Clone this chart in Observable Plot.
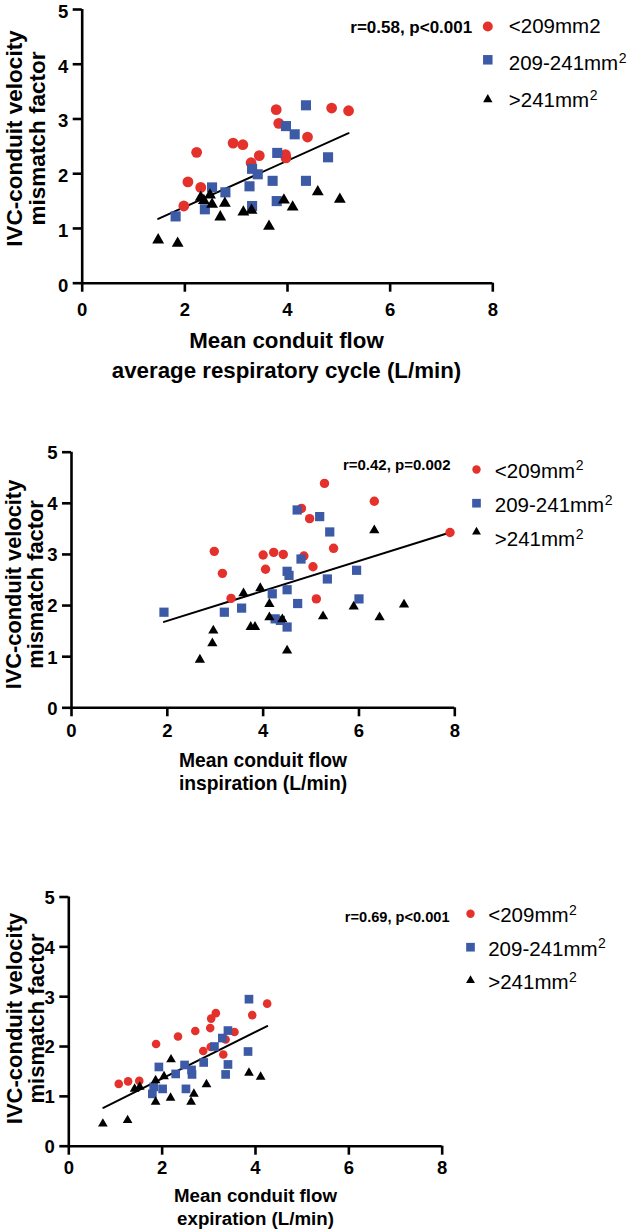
<!DOCTYPE html>
<html><head><meta charset="utf-8">
<script src="https://cdn.jsdelivr.net/npm/d3@7"></script>
<script src="https://cdn.jsdelivr.net/npm/@observablehq/plot@0.6"></script>
<style>
html,body{margin:0;padding:0;background:#fff;}
#root{position:relative;width:633px;height:1231px;overflow:hidden;background:#fff;}
#root svg{position:absolute;left:0;}
</style></head><body><div id="root"></div>
<script>
// ---------- data ----------
const xTicks = [0, 2, 4, 6, 8];
const yTicks = [0, 1, 2, 3, 4, 5];
const legend1 = ["<209mm2", "209-241mm²", ">241mm²"];
const legend23 = ["<209mm²", "209-241mm²", ">241mm²"];
const yTitle = "IVC-conduit velocity\nmismatch factor";
const xTitles = ["Mean conduit flow\naverage respiratory cycle (L/min)", "Mean conduit flow\ninspiration (L/min)", "Mean conduit flow\nexpiration (L/min)"];
const stats = ["r=0.58, p<0.001", "r=0.42, p=0.002", "r=0.69, p<0.001"];

// Panel 1: average respiratory cycle
const avgSmallX = [1.98, 2.06, 2.23, 2.31, 2.94, 3.13, 3.29, 3.45, 3.78, 3.83, 3.96, 3.97, 4.39, 4.86, 5.19];
const avgSmallY = [1.41, 1.85, 2.39, 1.75, 2.56, 2.53, 2.20, 2.33, 3.17, 2.92, 2.35, 2.29, 2.67, 3.20, 3.15];
const avgMidX = [1.82, 2.39, 2.53, 2.79, 3.26, 3.31, 3.31, 3.42, 3.71, 3.80, 3.79, 3.97, 4.14, 4.36, 4.36, 4.79];
const avgMidY = [1.22, 1.35, 1.75, 1.66, 1.77, 2.09, 1.41, 1.99, 1.87, 2.38, 1.50, 2.87, 2.72, 3.25, 1.87, 2.30];
const avgLargeX = [1.48, 1.86, 2.31, 2.37, 2.49, 2.53, 2.69, 2.78, 3.14, 3.30, 3.64, 3.93, 4.10, 4.59, 5.02];
const avgLargeY = [0.79, 0.73, 1.57, 1.51, 1.61, 1.44, 1.21, 1.46, 1.30, 1.33, 1.04, 1.52, 1.39, 1.67, 1.53];
const avgFitX = [1.48, 5.19];
const avgFitY = [1.175, 2.74];

// Panel 2: inspiration
const inspSmallX = [2.98, 3.15, 3.33, 4.00, 4.05, 4.22, 4.42, 4.80, 4.97, 4.85, 5.04, 5.11, 5.28, 5.47, 6.32, 7.90];
const inspSmallY = [3.06, 2.63, 2.14, 2.99, 2.71, 3.04, 3.00, 3.90, 3.70, 2.97, 2.76, 2.13, 4.39, 3.12, 4.04, 3.43];
const inspMidX = [1.93, 3.19, 3.55, 4.19, 4.50, 4.54, 4.50, 4.25, 4.36, 4.50, 4.72, 4.71, 4.79, 5.18, 5.39, 5.34, 5.95, 6.00];
const inspMidY = [1.87, 1.87, 1.95, 2.23, 2.67, 2.59, 2.31, 1.74, 1.71, 1.58, 2.04, 3.87, 2.91, 3.74, 3.44, 2.52, 2.69, 2.13];
const inspLargeX = [2.68, 2.94, 2.96, 3.59, 3.74, 3.83, 3.94, 4.13, 4.13, 4.40, 4.50, 5.25, 5.89, 6.32, 6.43, 6.94];
const inspLargeY = [0.94, 1.26, 1.51, 2.24, 1.58, 1.58, 2.34, 2.03, 1.77, 1.73, 1.12, 1.79, 1.98, 3.47, 1.77, 2.02];
const inspFitX = [1.93, 7.90];
const inspFitY = [1.68, 3.43];

// Panel 3: expiration
const expSmallX = [1.07, 1.27, 1.51, 1.87, 2.34, 2.71, 2.88, 3.03, 3.05, 3.15, 3.04, 3.31, 3.36, 3.55, 3.93, 4.25];
const expSmallY = [1.25, 1.30, 1.31, 2.05, 2.20, 2.31, 1.91, 2.37, 2.56, 2.67, 1.99, 1.84, 2.14, 2.29, 2.63, 2.86];
const expMidX = [1.79, 1.82, 1.93, 2.01, 2.29, 2.48, 2.51, 2.63, 2.64, 2.89, 3.12, 3.29, 3.41, 3.36, 3.41, 3.84, 3.86];
const expMidY = [1.05, 1.19, 1.59, 1.15, 1.45, 1.63, 1.15, 1.53, 1.44, 1.68, 2.00, 2.17, 2.32, 1.44, 1.64, 1.90, 2.95];
const expLargeX = [0.73, 1.26, 1.41, 1.52, 1.86, 1.86, 2.04, 2.18, 2.19, 2.62, 2.68, 2.95, 3.86, 4.11];
const expLargeY = [0.45, 0.52, 1.15, 1.19, 1.32, 0.89, 1.40, 0.97, 1.74, 0.89, 1.05, 1.24, 1.47, 1.39];
const expFitX = [0.74, 4.25];
const expFitY = [0.77, 2.41];

// ---------- styles ----------
const RED = "#e4312b", BLUE = "#3c5aa6", BLACK = "#000";
const FONT = "'Liberation Sans', Arial, Helvetica, sans-serif";
const symbols = ["circle", "square", "triangle"];
const fills = [RED, BLUE, BLACK];
const LEG_SIZE = 20.5, SUP_SIZE = 14, SUP_RAISE = 7.5;

const zip = (xs, ys) => xs.map((x, i) => ({x, y: ys[i]}));
const ctx = document.createElement("canvas").getContext("2d");
function textWidth(s, size, weight) {
  ctx.font = `${weight || "normal"} ${size}px 'Liberation Sans', Arial, sans-serif`;
  return ctx.measureText(s).width;
}

function panel(cfg) {
  const {svgTop, svgH, fl, fr, ft, fb} = cfg;
  const rel = (px, py) => ({frameAnchor: "top-left", dx: px - fl, dy: py - ft});
  const sets = cfg.series.map(([xs, ys]) => zip(xs, ys));
  const marks = [
    Plot.ruleY([0], {stroke: BLACK, strokeWidth: 2.6}),
    Plot.ruleX([0], {stroke: BLACK, strokeWidth: 2.6}),
    Plot.axisX({ticks: xTicks, tickSize: 9, tickPadding: cfg.xPad, strokeWidth: 2.6, stroke: BLACK, fill: BLACK,
      fontSize: 18.5, fontWeight: "bold", label: null, tickFormat: d => String(d)}),
    // y ticks only
    Plot.axisY({ticks: yTicks, tickSize: 9, strokeWidth: 2.6, stroke: BLACK, fill: "none", label: null}),
    // y tick labels only (nudged down slightly, as in the reference)
    Plot.axisY({ticks: yTicks, tickSize: 9, tickPadding: 5, stroke: "none", fill: BLACK, dy: cfg.yLabDy,
      fontSize: 18.5, fontWeight: "bold", label: null, tickFormat: d => String(d)}),
    Plot.line(zip(cfg.fit[0], cfg.fit[1]), {x: "x", y: "y", stroke: BLACK, strokeWidth: 2})
  ];
  sets.forEach((d, i) => {
    marks.push(Plot.dot(d, {x: "x", y: "y", symbol: symbols[i], fill: fills[i], stroke: "none", r: cfg.rs[i]}));
  });
  // legend
  cfg.legend.forEach((lab, i) => {
    marks.push(Plot.dot([lab], {...rel(cfg.legX, cfg.legSymY[i]), symbol: symbols[i], fill: fills[i], stroke: "none", r: cfg.legR[i]}));
    const sup = lab.endsWith("²");
    const base = sup ? lab.slice(0, -1) : lab;
    marks.push(Plot.text([base], {...rel(cfg.legTextX, cfg.legTextY[i]), textAnchor: "start", lineAnchor: "bottom",
      fontSize: LEG_SIZE, fontWeight: "normal", fill: BLACK}));
    if (sup) {
      const w = textWidth(base, LEG_SIZE);
      marks.push(Plot.text(["2"], {...rel(cfg.legTextX + w + 0.5, cfg.legTextY[i] - SUP_RAISE), textAnchor: "start", lineAnchor: "bottom",
        fontSize: SUP_SIZE, fontWeight: "normal", fill: BLACK}));
    }
  });
  marks.push(Plot.text([cfg.stat], {...rel(cfg.statX, cfg.statY), textAnchor: "end", lineAnchor: "bottom",
    fontSize: cfg.statSize, fontWeight: "bold", fill: BLACK}));
  marks.push(Plot.text([cfg.xTitle], {...rel(cfg.xtX, cfg.xtY), textAnchor: "middle", lineAnchor: "bottom",
    lineHeight: cfg.xtLH, fontSize: cfg.xtSize, fontWeight: "bold", fill: BLACK}));
  marks.push(Plot.text([yTitle], {...rel(cfg.ytX, cfg.ytY), rotate: -90, textAnchor: "middle", lineAnchor: "bottom",
    lineHeight: cfg.ytLH, fontSize: cfg.ytSize, fontWeight: "bold", fill: BLACK}));

  const svg = Plot.plot({
    width: 633, height: svgH,
    marginLeft: fl, marginRight: 633 - fr, marginTop: ft - svgTop, marginBottom: svgTop + svgH - fb,
    x: {domain: [0, 8]}, y: {domain: [0, 5]},
    style: {fontFamily: FONT, fontSize: "18.5px", fontWeight: "bold", color: BLACK, background: "transparent", overflow: "visible"},
    marks
  });
  svg.style.top = svgTop + "px";
  document.getElementById("root").appendChild(svg);
}

panel({
  svgTop: 0, svgH: 395, fl: 81.7, fr: 492.3, ft: 9, fb: 282.7, xPad: 10.2, yLabDy: 2.5,
  series: [[avgSmallX, avgSmallY], [avgMidX, avgMidY], [avgLargeX, avgLargeY]],
  fit: [avgFitX, avgFitY],
  rs: [5.4, 5.7, 4.4],
  legend: legend1, legX: 487.3, legSymY: [26, 59.3, 99], legR: [5, 5.36, 3.5],
  legTextX: 508.3, legTextY: [32, 69.5, 106.5],
  stat: stats[0], statX: 471.7, statY: 32, statSize: 17,
  xTitle: xTitles[0], xtX: 286, xtY: 377, xtLH: 1.32, xtSize: 22.3,
  ytX: 44.5, ytY: 138, ytLH: 1.0, ytSize: 22.5
});
panel({
  svgTop: 395, svgH: 420, fl: 71, fr: 454.3, ft: 451.7, fb: 707.3, xPad: 7.3, yLabDy: 1,
  series: [[inspSmallX, inspSmallY], [inspMidX, inspMidY], [inspLargeX, inspLargeY]],
  fit: [inspFitX, inspFitY],
  rs: [4.7, 5.2, 3.8],
  legend: legend23, legX: 476, legSymY: [469, 502.7, 531.5], legR: [4.2, 4.9, 3.3],
  legTextX: 494.3, legTextY: [477.3, 511.7, 545.7],
  stat: stats[1], statX: 450, statY: 469.3, statSize: 15,
  xTitle: xTitles[1], xtX: 262.5, xtY: 789.3, xtLH: 1.2, xtSize: 19.3,
  ytX: 42, ytY: 584, ytLH: 1.0, ytSize: 21.8
});
panel({
  svgTop: 815, svgH: 416, fl: 68.3, fr: 441.7, ft: 896.5, fb: 1145.7, xPad: 5.5, yLabDy: 1,
  series: [[expSmallX, expSmallY], [expMidX, expMidY], [expLargeX, expLargeY]],
  fit: [expFitX, expFitY],
  rs: [4.3, 4.9, 3.6],
  legend: legend23, legX: 470, legSymY: [913.3, 946.7, 980], legR: [4.2, 4.9, 3.3],
  legTextX: 487.7, legTextY: [921.7, 955, 988.5],
  stat: stats[2], statX: 449, statY: 921.7, statSize: 14.6,
  xTitle: xTitles[2], xtX: 255, xtY: 1224.3, xtLH: 1.2, xtSize: 18.7,
  ytX: 43, ytY: 1018, ytLH: 1.0, ytSize: 22
});
</script>
</body></html>
